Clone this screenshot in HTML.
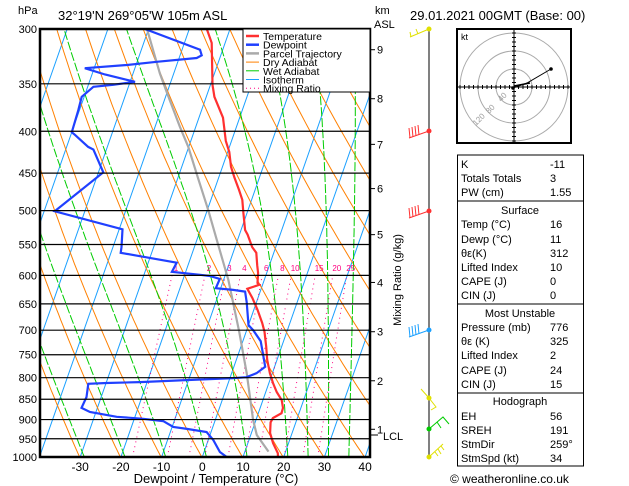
<!DOCTYPE html>
<html><head><meta charset="utf-8">
<style>
body{margin:0;background:#fff;width:629px;height:486px;overflow:hidden;font-family:"Liberation Sans",sans-serif;}
svg{position:absolute;left:0;top:0;}
text{font-family:"Liberation Sans",sans-serif;}
</style></head>
<body>
<svg id="chart" width="629" height="486" viewBox="0 0 629 486" xmlns="http://www.w3.org/2000/svg">
<defs><clipPath id="plotclip"><rect x="40" y="29" width="330" height="428"/></clipPath></defs>
<rect x="0" y="0" width="629" height="486" fill="#fff"/>
<g id="bg" clip-path="url(#plotclip)"></g>
<g id="series" clip-path="url(#plotclip)"></g>
<g id="axes"></g>
<text x="18" y="14" font-size="11">hPa</text>
<text x="58" y="20" font-size="13">32°19'N  269°05'W  105m  ASL</text>
<text x="375" y="14" font-size="11">km</text>
<text x="374" y="28" font-size="11">ASL</text>
<text x="216" y="483" font-size="13" text-anchor="middle">Dewpoint / Temperature (°C)</text>
<text transform="translate(401,280) rotate(-90)" font-size="11" text-anchor="middle">Mixing Ratio (g/kg)</text>
<text x="410" y="20" font-size="13">29.01.2021 00GMT (Base: 00)</text>
<g id="legend"></g>
<g id="winds"></g>
<g id="hodo"></g>
<g id="tables"></g>
<text x="450" y="483" font-size="12">© weatheronline.co.uk</text>
</svg>
<script>
// ---- data ----
const tempP=[300,312,351,363,385,411,424,442,455,472,485,502,528,535,554,563,583,596,613,616,623,639,661,686,703,733,761,790,812,833,852,871,884,896,907,935,962,989,1000];
const tempT=[-35.7,-33.3,-29.5,-28.0,-24.1,-21.4,-19.6,-17.9,-16.2,-13.9,-12.3,-11.0,-9.0,-8.0,-5.8,-4.3,-3.0,-2.1,-1.4,-0.8,-3.4,-1.4,0.9,3.2,4.5,6.2,7.6,9.4,11.0,12.7,14.6,15.6,15.7,14.0,13.8,14.6,16.2,18.2,18.6];
const dewP=[300,318,323,325.5,329,332,335,341,348,351,353,363,377,401,404,418,421,449,501,527,554,563,579,594,599,601,606,622,625,628,647,690,700,722,751,776,790,799,801,810,812,814,845,871,881,893,898,904,919,924,932,953,986,1000,1000];
const dewT=[-50.9,-35.6,-34.7,-35.7,-45.2,-52.3,-62.3,-56.8,-48.8,-53.9,-58.6,-60.6,-60.3,-60.0,-59.0,-54.7,-53.2,-48.8,-57.4,-39.2,-37.9,-37.6,-23.0,-23.4,-16.2,-13.7,-11.0,-11.2,-6.8,-3.7,-2.4,0.0,1.6,4.4,6.2,7.7,6.1,4.0,0.8,-21.8,-29.9,-34.3,-33.6,-33.9,-31.5,-24.5,-17.8,-12.7,-9.7,-6.2,-1.1,1.2,3.9,6.0,11.7];
const parcelP=[985,940,901,790,703,608,543,499,455,418,395,359,340,300];
const parcelT=[15.8,11.5,9.3,3.7,-1.7,-8.8,-15.1,-19.8,-25.2,-30.1,-33.9,-40.0,-43.4,-50.4];
const pressureTicks=[300,350,400,450,500,550,600,650,700,750,800,850,900,950,1000];
const tempTicks=[-30,-20,-10,0,10,20,30,40];
const kmLabels=["9","8","7","6","5","4","3","2","1"];
const kmPressures=[318,365,415,470,535,612,703,807,925];
const mixRatios=[1,2,3,4,6,8,10,15,20,25];
const mixLabels=["1","2","3","4","6","8","10","15","20","25"];
const moistStart=[-29,-19,-9,1,11,21,26,31,36];

const NS="http://www.w3.org/2000/svg";
const LN=Math.log(1000/300);
function yOf(p){return 29+Math.log(p/300)/LN*428;}
function xOf(T,p){return 202.3+4.07*T+0.35*(457-yOf(p));}
function mk(tag,attrs,parent){const e=document.createElementNS(NS,tag);for(const k in attrs)e.setAttribute(k,attrs[k]);parent.appendChild(e);return e;}
function pts(arrP,arrT){return arrP.map((p,i)=>xOf(arrT[i],p).toFixed(1)+","+yOf(p).toFixed(1)).join(" ");}
const bg=document.getElementById('bg'),ser=document.getElementById('series'),ax=document.getElementById('axes');

// isotherms
for(let T=-130;T<=40;T+=10){
  const l=mk('line',{x1:xOf(T,1000),y1:yOf(1000),x2:xOf(T,300),y2:yOf(300),stroke:'#1aa0ff','stroke-width':1},bg);
  
  
}
// dry adiabats
for(let th=203;th<=493;th+=10){
  const P=[],Tt=[];
  for(let p=1000;p>=300;p-=10){P.push(p);Tt.push(th*Math.pow(p/1000,0.286)-273.15);}
  const l=mk('polyline',{points:pts(P,Tt),fill:'none',stroke:'#ff8000','stroke-width':1},bg);
  
  
}
// moist adiabats
function es(T){return 6.112*Math.exp(17.67*(T-273.15)/(T-29.65));}
moistStart.forEach(t0=>{
  let T=t0+273.15;const P=[],Tt=[];
  for(let p=1000;p>=300;p-=5){
    P.push(p);Tt.push(T-273.15);
    const e=es(T),rs=0.622*e/(p-e);
    const d=(287*T+2.5e6*rs)/(p*(1004+2.5e6*2.5e6*rs*0.622/(287*T*T)));
    T-=d*5;
  }
  const l=mk('polyline',{points:pts(P,Tt),fill:'none',stroke:'#00cc00','stroke-width':1,'stroke-dasharray':'9,2'},bg);
  
  
});
// mixing ratio
mixRatios.forEach((w,i)=>{
  const P=[],Tt=[];
  for(let p=1000;p>=600;p-=10){const e=w*p/(622+w);const L=Math.log(e/6.112);P.push(p);Tt.push(243.5*L/(17.67-L));}
  const l=mk('polyline',{points:pts(P,Tt),fill:'none',stroke:'#ff0080','stroke-width':1,'stroke-dasharray':'1,4'},bg);
  
  
  const t=mk('text',{x:xOf(Tt[Tt.length-1],600)+4,y:271,'font-size':8,fill:'#ff0080','text-anchor':'middle'},bg);
  t.textContent=mixLabels[i];
  
  
});
// pressure lines and labels
pressureTicks.forEach(p=>{
  const y=yOf(p);
  const l=mk('line',{x1:40,y1:y,x2:370,y2:y,stroke:'#000','stroke-width':1.2},ax);
  
  
  const t=mk('text',{x:37,y:y+4,'font-size':11,'text-anchor':'end'},ax);
  t.textContent=p;
  
  
});
tempTicks.forEach(T=>{
  const t=mk('text',{x:xOf(T,1000),y:471,'font-size':12,'text-anchor':'middle'},ax);
  t.textContent=T;
  
  
});
kmLabels.forEach((k,i)=>{
  const y=yOf(kmPressures[i]);
  const l=mk('line',{x1:370,y1:y,x2:375,y2:y,stroke:'#000'},ax);
  
  
  const t=mk('text',{x:377,y:y+4,'font-size':11},ax);
  t.textContent=k;
  
  
});
{const y=yOf(940);const l=mk('line',{x1:370,y1:y,x2:378,y2:y,stroke:'#000'},ax);


const t=mk('text',{x:383,y:y+5,'font-size':11},ax);t.textContent='LCL';

}
{const r=mk('rect',{x:40,y:29,width:330,height:428,fill:'none',stroke:'#000','stroke-width':2.5},ax);

}

// series
{const l=mk('polyline',{points:pts(parcelP,parcelT),fill:'none',stroke:'#aaaaaa','stroke-width':2.2},ser);

}
{const l=mk('polyline',{points:pts(dewP,dewT),fill:'none',stroke:'#2040ff','stroke-width':2.2},ser);

}
{const l=mk('polyline',{points:pts(tempP,tempT),fill:'none',stroke:'#ff3030','stroke-width':2.2},ser);

}

// legend
const lg=document.getElementById('legend');
mk('rect',{x:243,y:29,width:127,height:63,fill:'#fff',stroke:'#000','stroke-width':1},lg);
const legItems=[["Temperature","#ff3030",2.5,""],["Dewpoint","#2040ff",2.5,""],["Parcel Trajectory","#aaaaaa",2.5,""],["Dry Adiabat","#ff8000",1,""],["Wet Adiabat","#00cc00",1,""],["Isotherm","#1aa0ff",1,""],["Mixing Ratio","#ff0080",1,"1,3"]];
legItems.forEach((it,i)=>{
  const y=36+i*8.7;
  const l=mk('line',{x1:246,y1:y,x2:259,y2:y,stroke:it[1],'stroke-width':it[2],'stroke-dasharray':it[3]||'none'},lg);
  
  
  const t=mk('text',{x:263,y:y+4,'font-size':10.5},lg);t.textContent=it[0];
  
  
});

// wind barbs
const wd=document.getElementById('winds');
mk('line',{x1:429,y1:29,x2:429,y2:457,stroke:'#000','stroke-width':1},wd);
const barbs=[[29,'#e0e000'],[131,'#ff3030'],[211,'#ff3030'],[330,'#1aa0ff'],[398,'#e0e000'],[429,'#00cc00'],[457,'#e0e000']];
barbs.forEach(b=>{
  const y=b[0],c=b[1];
  const g=mk('g',{stroke:c,fill:c,'stroke-width':1},wd);
  
  
  mk('circle',{cx:429,cy:y,r:2},g);
  if(y===398){mk('polyline',{points:`429,${y} 436,${y+9} 431,${y+12}`,fill:'none'},g);mk('line',{x1:429,y1:y,x2:421,y2:y-9},g);}
  else if(y===429){mk('polyline',{points:`429,${y} 443,${y-12} 449,${y-5}`,fill:'none'},g);mk('line',{x1:437,y1:y-7,x2:441,y2:y-1},g);}
  else if(y===457){mk('polyline',{points:`429,${y} 443,${y-13}`,fill:'none'},g);mk('line',{x1:435,y1:y-5,x2:438,y2:y-1},g);mk('line',{x1:438,y1:y-8,x2:441,y2:y-3},g);mk('line',{x1:441,y1:y-11,x2:444,y2:y-7},g);}
  else if(y===29){mk('polyline',{points:`429,${y} 410,${y+8}`,fill:'none'},g);mk('line',{x1:418,y1:y+5,x2:416,y2:y},g);mk('line',{x1:411,y1:y+8,x2:410,y2:y+3},g);}
  else {
    const len=y===330?20:20;
    mk('line',{x1:429,y1:y,x2:409,y2:y+7},g);
    for(let k=0;k<4;k++){mk('line',{x1:410+k*3,y1:y+7-k,x2:409+k*3,y2:y-3-k},g);}
  }
});

// hodograph
const hd=document.getElementById('hodo');
mk('rect',{x:457,y:29,width:114,height:114,fill:'#fff',stroke:'#000','stroke-width':2},hd);
[18,36,54].forEach(r=>mk('circle',{cx:514,cy:87,r:r,fill:'none',stroke:'#aaa','stroke-width':1},hd));
mk('line',{x1:458,y1:87,x2:570,y2:87,stroke:'#000'},hd);
mk('line',{x1:514,y1:30,x2:514,y2:142,stroke:'#000'},hd);
for(let d=-54;d<=54;d+=4.5){mk('line',{x1:514+d,y1:85,x2:514+d,y2:89,stroke:'#000'},hd);mk('line',{x1:512,y1:87+d,x2:516,y2:87+d,stroke:'#000'},hd);}
[["40",501,102],["80",489,114],["120",476,126]].forEach(a=>{const t=mk('text',{x:a[1],y:a[2],'font-size':8,fill:'#999',transform:`rotate(-45 ${a[1]} ${a[2]})`},hd);t.textContent=a[0];});
mk('polyline',{points:'513,88 527,83 551,69',fill:'none',stroke:'#000','stroke-width':1},hd);
mk('polyline',{points:'514,86 530,83',fill:'none',stroke:'#000','stroke-width':1.5},hd);
mk('circle',{cx:551,cy:69,r:1.8,fill:'#000'},hd);
mk('circle',{cx:513,cy:88,r:1.8,fill:'#000'},hd);
mk('text',{x:461,y:40,'font-size':9},hd).textContent='kt';

// tables
const tb=document.getElementById('tables');
const boxes=[[155,46],[201,103],[304,89],[393,73]];
boxes.forEach(b=>mk('rect',{x:457.5,y:b[0],width:126,height:b[1],fill:'none',stroke:'#000','stroke-width':1},tb));
const rows=[
 [168,"K","-11"],[182,"Totals Totals","3"],[196,"PW (cm)","1.55"],
 [214,"Surface",null],[228,"Temp (°C)","16"],[243,"Dewp (°C)","11"],[257,"θε(K)","312"],[271,"Lifted Index","10"],[285,"CAPE (J)","0"],[299,"CIN (J)","0"],
 [317,"Most Unstable",null],[331,"Pressure (mb)","776"],[345,"θε (K)","325"],[359,"Lifted Index","2"],[374,"CAPE (J)","24"],[388,"CIN (J)","15"],
 [405,"Hodograph",null],[420,"EH","56"],[434,"SREH","191"],[448,"StmDir","259°"],[462,"StmSpd (kt)","34"]];
rows.forEach(r=>{
  if(r[2]===null){const t=mk('text',{x:520,y:r[0],'font-size':11,'text-anchor':'middle'},tb);t.textContent=r[1];
    
    }
  else{const t=mk('text',{x:461,y:r[0],'font-size':11},tb);t.textContent=r[1];
    
    
    const v=mk('text',{x:550,y:r[0],'font-size':11},tb);v.textContent=r[2];
    
    }
});
</script>
</body></html>
